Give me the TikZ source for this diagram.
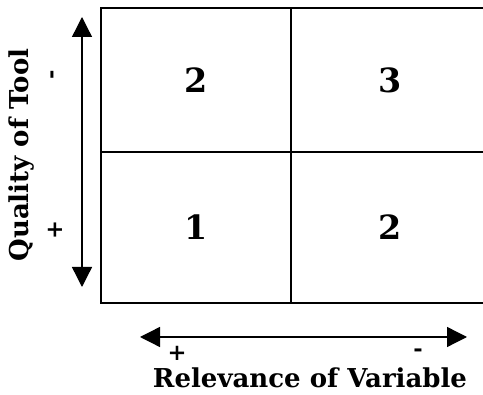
\documentclass[tikz,border=0pt]{standalone}
\usepackage{fontspec}
\setmainfont{DejaVu Serif}
\usepackage{tikz}
\usetikzlibrary{positioning,arrows.meta}

\begin{document}
\begin{tikzpicture}[
  x=0.75pt, y=-0.75pt,
  font=\bfseries,
  cell/.style={draw, rectangle, line width=1.7pt, inner sep=0pt, font=\bfseries\fontsize{25}{25}\selectfont},
  lab/.style={font=\bfseries\fontsize{19.5}{19.5}\selectfont},
  sgn/.style={font=\bfseries\fontsize{17}{17}\selectfont},
  arr/.style={{Triangle[length=15pt,width=15pt]}-{Triangle[length=15pt,width=15pt]}, line width=1pt}
]
  \useasboundingbox (0,0) rectangle (483,395);

  % grid of four cells
  \node[cell, minimum width=142.5pt, minimum height=108pt] (tl) at (196,80) {2};
  \node[cell, minimum width=148.5pt, minimum height=108pt] (tr) at (390,80) {3};
  \node[cell, minimum width=142.5pt, minimum height=113.25pt] (bl) at (196,227.5) {1};
  \node[cell, minimum width=148.5pt, minimum height=113.25pt] (br) at (390,227.5) {2};

  % axes
  \coordinate (qtop) at (82,17);
  \coordinate (qbot) at (82,287);
  \coordinate (rleft) at (140,337);
  \coordinate (rright) at (467,337);
  \draw[arr] (qtop) -- (qbot);
  \draw[arr] (rleft) -- (rright);

  \node[lab, rotate=90] (qual) at (22,155) {Quality of Tool};
  \node[sgn, rotate=90] (qminus) at (55,75) {-};
  \node[sgn, rotate=90] (qplus) at (55,230) {+};

  \node[sgn] (rplus) at (177,353) {+};
  \node[sgn] (rminus) at (418,353) {-};
  \node[lab] (rel) at (310,378) {Relevance of Variable};
\end{tikzpicture}
\end{document}
